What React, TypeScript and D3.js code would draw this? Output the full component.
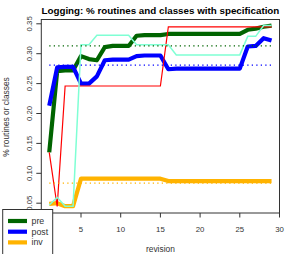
import * as d3 from "d3";

// revisions along the x axis
const revisions = [1, 2, 3, 4, 5, 6, 7, 8, 9, 10, 11, 12, 13, 14, 15, 16, 17, 18, 19, 20, 21, 22, 23, 24, 25, 26, 27, 28, 29];

// thick series (legend)
const pre = [0.135, 0.271, 0.272, 0.272, 0.296, 0.291, 0.289, 0.311, 0.313, 0.313, 0.313, 0.330, 0.331, 0.331, 0.331, 0.333, 0.333, 0.333, 0.333, 0.333, 0.333, 0.333, 0.333, 0.333, 0.333, 0.340, 0.342, 0.345, 0.347];
const post = [0.213, 0.277, 0.278, 0.278, 0.250, 0.250, 0.262, 0.289, 0.290, 0.290, 0.290, 0.296, 0.297, 0.297, 0.297, 0.274, 0.275, 0.275, 0.275, 0.275, 0.275, 0.275, 0.275, 0.275, 0.275, 0.312, 0.313, 0.326, 0.322];
const inv = [0.049, 0.050, 0.045, 0.045, 0.091, 0.091, 0.091, 0.091, 0.091, 0.091, 0.091, 0.091, 0.091, 0.091, 0.091, 0.087, 0.087, 0.087, 0.087, 0.087, 0.087, 0.087, 0.087, 0.087, 0.087, 0.087, 0.087, 0.087, 0.087];

// thin series (not in legend)
const redSeries = [0.135, 0.0445, 0.246, 0.246, 0.246, 0.246, 0.246, 0.246, 0.246, 0.246, 0.246, 0.246, 0.246, 0.246, 0.246, 0.345, 0.345, 0.345, 0.345, 0.345, 0.345, 0.345, 0.345, 0.345, 0.345, 0.345, 0.345, 0.345, 0.345];
const aquaSeries = [0.047, 0.060, 0.045, 0.045, 0.315, 0.315, 0.331, 0.331, 0.331, 0.331, 0.331, 0.315, 0.315, 0.315, 0.315, 0.315, 0.298, 0.298, 0.298, 0.298, 0.298, 0.298, 0.298, 0.298, 0.298, 0.329, 0.329, 0.347, 0.347];

// dotted reference levels
const refLevels = [0.3132, 0.281, 0.0836];

const xTicks = [5, 10, 15, 20, 25, 30];
const yTicks = [0.05, 0.1, 0.15, 0.2, 0.25, 0.3, 0.35];
const legendNames = ["pre", "post", "inv"];

export default function App() {
  const W = 294;
  const H = 254;
  const left = 41.3, right = 279.5, top = 19.5, bottom = 213;

  const x = d3.scaleLinear().domain([0, 30]).range([left, right]);
  const y = d3.scaleLinear().domain([0.05, 0.35]).range([203.2, 23.8]);

  const line = d3
    .line<number>()
    .x((d, i) => x(revisions[i]))
    .y((d) => y(d));

  const thick = [
    { vals: pre, color: "#006400" },
    { vals: post, color: "#0000FF" },
    { vals: inv, color: "#FFB300" },
  ];
  const refColors = ["#006400", "#0000FF", "#FFB300"];
  const font = "Liberation Sans, Arial, Helvetica, sans-serif";

  return (
    <svg width={W} height={H} style={{ position: "absolute", left: 0, top: 0 }} fontFamily={font}>
      <rect width={W} height={H} fill="white" />
      <text x={(left + right) / 2} y={13.5} textAnchor="middle" fontWeight="bold" fontSize={9.8}>
        Logging: % routines and classes with specification
      </text>

      {/* series */}
      {thick.map((s, k) => (
        <path key={k} d={line(s.vals) || ""} fill="none" stroke={s.color} strokeWidth={4.2} strokeLinejoin="round" />
      ))}
      <path d={line(redSeries) || ""} fill="none" stroke="#FF0000" strokeWidth={1.2} />
      <path d={line(aquaSeries) || ""} fill="none" stroke="#7FFFD4" strokeWidth={1.5} />

      {refLevels.map((v, k) => (
        <line key={k} x1={x(1)} x2={x(29)} y1={y(v)} y2={y(v)} stroke={refColors[k]} strokeWidth={1.3} strokeDasharray="1.3 3.2" />
      ))}

      {/* box */}
      <rect x={left} y={top} width={right - left} height={bottom - top} fill="none" stroke="#333" strokeWidth={1} />

      {/* x axis */}
      {xTicks.map((t) => (
        <g key={t}>
          <line x1={x(t)} x2={x(t)} y1={bottom} y2={bottom + 4.5} stroke="#333" />
          <text x={x(t)} y={231.5} textAnchor="middle" fontSize={7.8} fill="#333">
            {t}
          </text>
        </g>
      ))}
      <text x={(left + right) / 2} y={251.5} textAnchor="middle" fontSize={8.4} fill="#333">
        revision
      </text>

      {/* y axis */}
      {yTicks.map((t) => (
        <g key={t}>
          <line x1={left - 5} x2={left} y1={y(t)} y2={y(t)} stroke="#333" />
          <text transform={`translate(31.8,${y(t)}) rotate(-90)`} textAnchor="middle" fontSize={7.8} fill="#333">
            {d3.format(".2f")(t)}
          </text>
        </g>
      ))}
      <text transform={`translate(9.3,117) rotate(-90)`} textAnchor="middle" fontSize={8.4} fill="#333">
        % routines or classes
      </text>

      {/* legend */}
      <rect x={2.7} y={209.5} width={50} height={50} fill="white" stroke="#333" strokeWidth={1} />
      {legendNames.map((n, k) => (
        <g key={n}>
          <line x1={8} x2={27} y1={221 + k * 10.7} y2={221 + k * 10.7} stroke={thick[k].color} strokeWidth={4.2} />
          <text x={31.5} y={221 + k * 10.7 + 3} fontSize={8.8} fill="#333">
            {n}
          </text>
        </g>
      ))}
    </svg>
  );
}
